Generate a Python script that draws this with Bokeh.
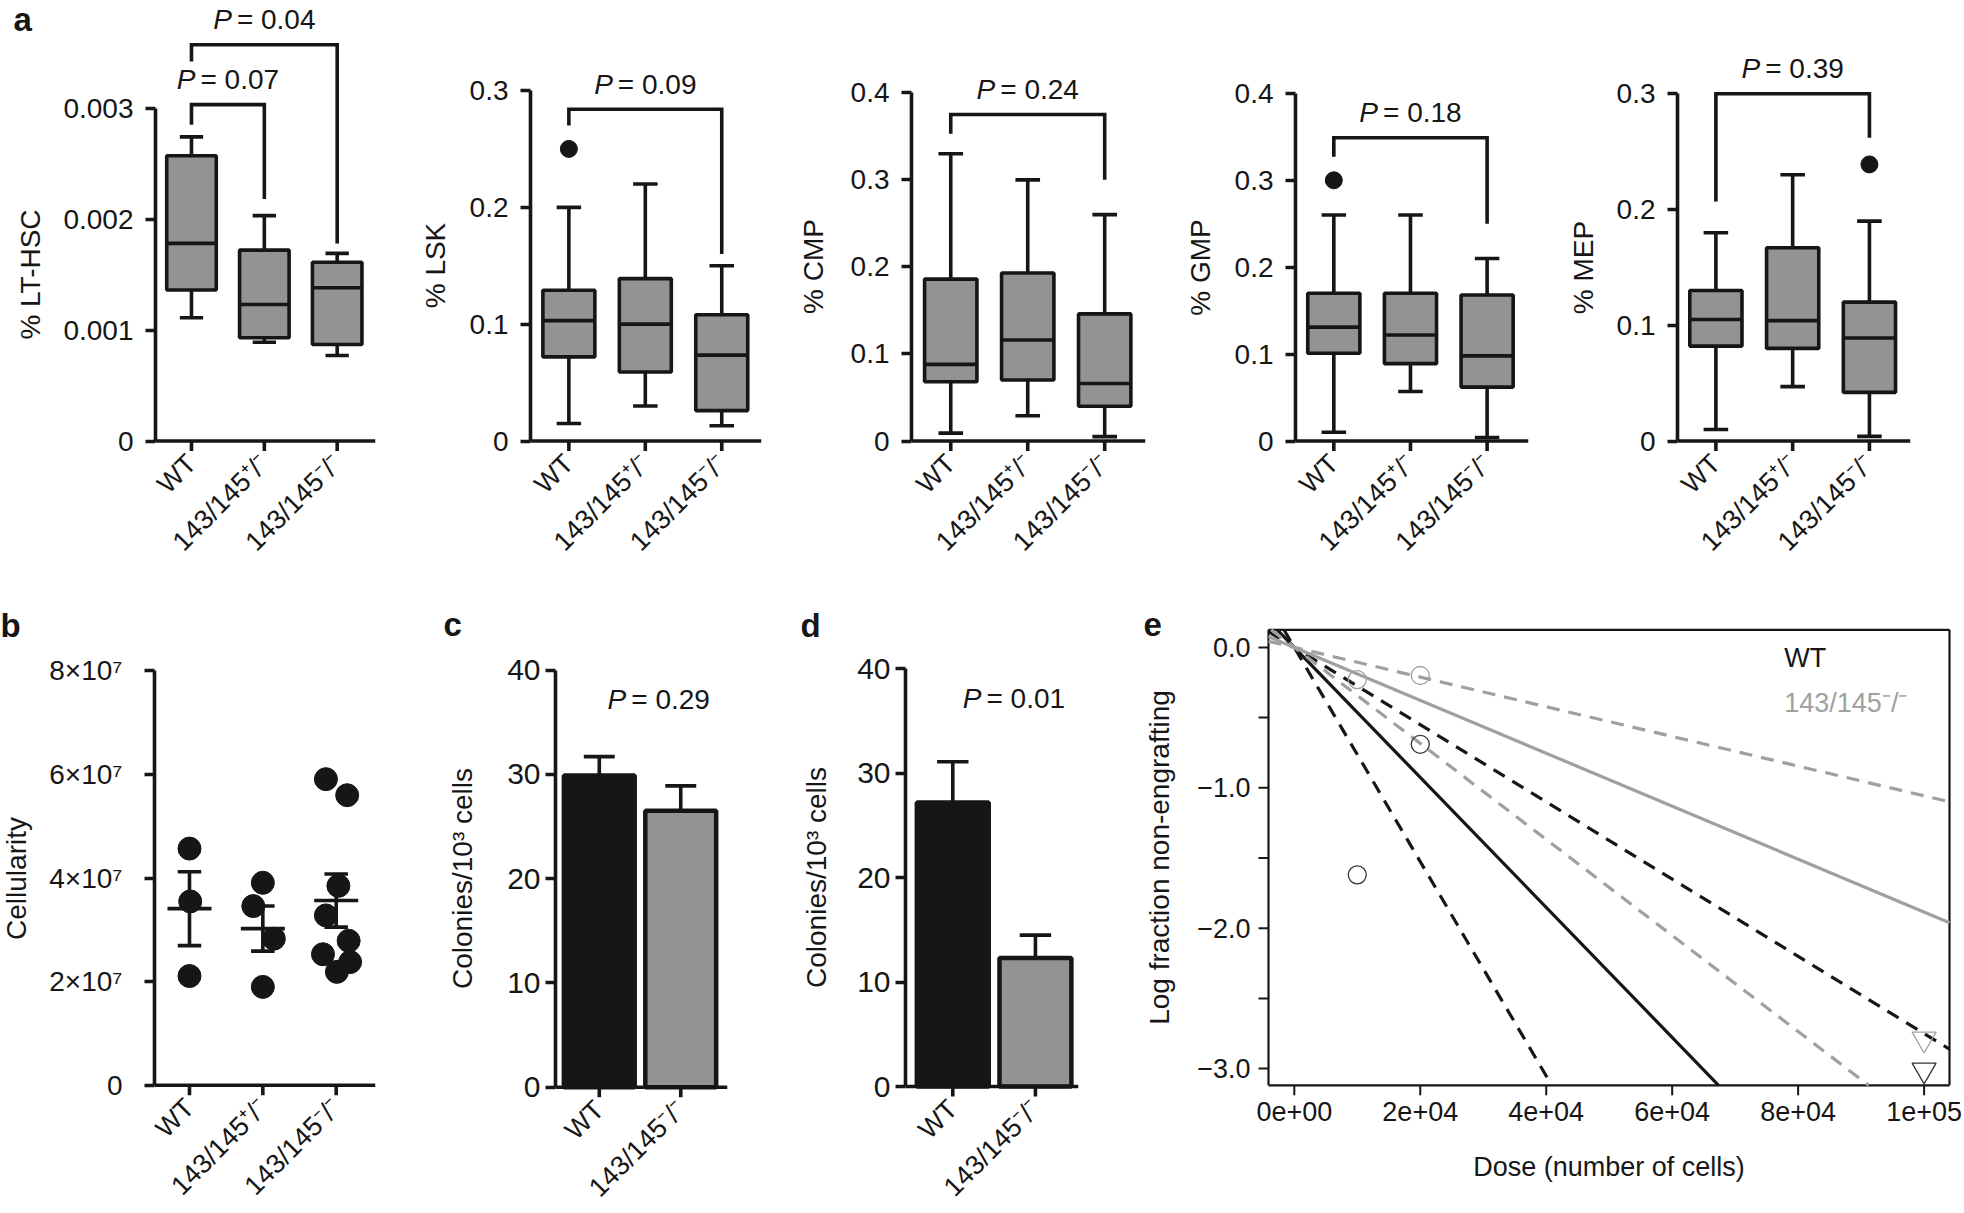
import math
from bokeh.plotting import figure
from bokeh.models import Range1d, FixedTicker
from bokeh.layouts import row, column
from bokeh.embed import file_html
from bokeh.resources import INLINE
from bokeh.core.properties import value

FONT = "Liberation Sans"
BLACK = "#161616"
BOXGRAY = "#939393"
LINEGRAY = "#a0a0a0"
LW = 3.6

# ---------------- data ----------------
groups3 = ["WT", "143/145⁺/⁻", "143/145⁻/⁻"]
groups2 = ["WT", "143/145⁻/⁻"]

# panel a: whisker low, Q1, median, Q3, whisker high
lthsc_low = [0.00111, 0.00089, 0.00077]
lthsc_q1 = [0.00136, 0.00093, 0.00087]
lthsc_med = [0.00178, 0.00123, 0.00138]
lthsc_q3 = [0.00257, 0.00172, 0.00161]
lthsc_high = [0.00274, 0.00203, 0.00169]
lthsc_out = []

lsk_low = [0.015, 0.030, 0.013]
lsk_q1 = [0.072, 0.059, 0.026]
lsk_med = [0.103, 0.100, 0.0735]
lsk_q3 = [0.129, 0.139, 0.108]
lsk_high = [0.200, 0.220, 0.150]
lsk_out = [(1, 0.250)]

cmp_low = [0.009, 0.029, 0.005]
cmp_q1 = [0.068, 0.070, 0.040]
cmp_med = [0.088, 0.116, 0.066]
cmp_q3 = [0.186, 0.193, 0.146]
cmp_high = [0.330, 0.300, 0.260]
cmp_out = []

gmp_low = [0.010, 0.057, 0.004]
gmp_q1 = [0.101, 0.089, 0.062]
gmp_med = [0.131, 0.122, 0.098]
gmp_q3 = [0.170, 0.170, 0.168]
gmp_high = [0.260, 0.260, 0.210]
gmp_out = [(1, 0.300)]

mep_low = [0.010, 0.047, 0.004]
mep_q1 = [0.082, 0.080, 0.042]
mep_med = [0.105, 0.104, 0.089]
mep_q3 = [0.130, 0.167, 0.120]
mep_high = [0.180, 0.230, 0.190]
mep_out = [(3, 0.239)]

# brackets: (group a, group b, leg a end, leg b end, bracket top, P value)
lthsc_brackets = [(1, 2, 0.00285, 0.00218, 0.00303, "0.07"),
                  (1, 3, 0.00342, 0.00178, 0.00357, "0.04")]
lsk_brackets = [(1, 3, 0.270, 0.160, 0.284, "0.09")]
cmp_brackets = [(1, 3, 0.353, 0.300, 0.375, "0.24")]
gmp_brackets = [(1, 3, 0.327, 0.250, 0.349, "0.18")]
mep_brackets = [(1, 3, 0.207, 0.262, 0.300, "0.39")]

# panel b: cellularity per mouse and beeswarm offsets
cell_wt = [4.57e7, 3.55e7, 2.11e7]
cell_het = [3.91e7, 3.46e7, 2.83e7, 1.90e7]
cell_ko = [5.91e7, 5.60e7, 3.85e7, 3.28e7, 2.79e7, 2.53e7, 2.38e7, 2.19e7]
swarm_wt = [0.0, 0.01, 0.0]
swarm_het = [0.0, -0.13, 0.15, 0.0]
swarm_ko = [-0.14, 0.15, 0.03, -0.14, 0.17, -0.18, 0.19, 0.01]

# panels c, d: colonies per 10^3 cells
cfu_c_mean = [29.9, 26.5]
cfu_c_err = [1.8, 2.4]
cfu_c_p = "0.29"
cfu_d_mean = [27.2, 12.3]
cfu_d_err = [3.9, 2.2]
cfu_d_p = "0.01"

# panel e: limiting dilution (estimate, upper CI, lower CI) stem-cell frequencies
lda_wt_freq = [4.63e-5, 7.63e-5, 2.75e-5]
lda_ko_freq = [1.885e-5, 3.42e-5, 1.057e-5]
lda_wt_dose = [1e4, 2e4]
lda_wt_logfrac = [-1.62, -0.69]
lda_ko_dose = [1e4, 2e4]
lda_ko_logfrac = [-0.23, -0.20]
lda_wt_zero_dose = [1e5]
lda_wt_zero_val = [-3.01]
lda_ko_zero_dose = [1e5]
lda_ko_zero_val = [-2.79]
dose_ticks = [0, 20000, 40000, 60000, 80000, 100000]
dose_tick_labels = ["0e+00", "2e+04", "4e+04", "6e+04", "8e+04", "1e+05"]
logfrac_ticks = [-3, -2.5, -2, -1.5, -1, -0.5, 0]
logfrac_labelled = [-3, -2, -1, 0]
logfrac_tick_labels = ["−3.0", "−2.0", "−1.0", "0.0"]

# ---------------- helpers ----------------
CW = {"=": 0.584, " ": 0.278, ".": 0.278}


def str_w(s):
    return sum(CW.get(ch, 0.556) for ch in s)


def base_fig(width, height, left, right, xr, yr, yaxis=True):
    p = figure(width=width, height=height, output_backend="svg", toolbar_location=None,
               tools="", x_range=Range1d(*xr), y_range=Range1d(*yr), x_axis_type=None,
               y_axis_type="linear" if yaxis else None,
               min_border_left=left, min_border_right=right,
               min_border_top=0, min_border_bottom=0)
    p.grid.visible = False
    p.outline_line_color = None
    p.background_fill_color = "white"
    p.border_fill_color = "white"
    return p


def text_fig(width, height, items):
    """Narrow strip holding panel letters and y-axis titles (as real text)."""
    f = figure(width=width, height=height, output_backend="svg", toolbar_location=None,
               tools="", x_range=Range1d(0, width), y_range=Range1d(0, height),
               x_axis_type=None, y_axis_type=None,
               min_border_left=0, min_border_right=0, min_border_top=0, min_border_bottom=0)
    f.grid.visible = False
    f.outline_line_color = None
    f.background_fill_color = "white"
    f.border_fill_color = "white"
    for (txt, x, ymid, kind) in items:
        if kind == "letter":
            f.text(x=[x], y=[height - ymid], text=[txt], text_font=value(FONT),
                   text_font_style="bold", text_font_size="33px", text_color=BLACK,
                   text_align="left", text_baseline="middle")
        else:
            f.text(x=[x], y=[height - ymid], text=[txt], text_font=value(FONT),
                   text_font_size="28px", text_color=BLACK, angle=math.pi / 2,
                   text_align="center", text_baseline="middle")
    return f


def style_yaxis(ax, fs, lw=LW, tick_out=10, standoff=10):
    ax.axis_line_width = lw
    ax.axis_line_color = BLACK
    ax.major_tick_line_width = lw
    ax.major_tick_line_color = BLACK
    ax.major_tick_out = tick_out
    ax.major_tick_in = 0
    ax.minor_tick_line_color = None
    ax.major_label_text_font = FONT
    ax.major_label_text_font_size = f"{fs}px"
    ax.major_label_text_color = BLACK
    ax.major_label_standoff = standoff


def manual_xaxis(p, xr, cats, labels, ppu, fs=27):
    n = len(cats)
    p.segment(x0=[xr[0]], y0=[0], x1=[xr[1]], y1=[0], line_color=BLACK, line_width=LW)
    p.segment(x0=cats, y0=[0] * n, x1=cats, y1=[-10 / ppu] * n, line_color=BLACK,
              line_width=LW)
    p.text(x=cats, y=[-18 / ppu] * n, text=labels, angle=math.pi / 4, text_align="right",
           text_baseline="middle", text_font=value(FONT), text_font_size=f"{fs}px",
           text_color=BLACK)


def ptext(p, x, y, pv, fs=28):
    """P-value text centred at (x, y): italic P followed by '= value'."""
    rest = "= " + pv
    wp = 0.667 + 0.18
    W = (wp + str_w(rest)) * fs
    p.text(x=[x], y=[y], text=["P"], text_font=value(FONT), text_font_style="italic",
           text_font_size=f"{fs}px", text_align="left", text_baseline="middle",
           x_offset=-W / 2, text_color=BLACK)
    p.text(x=[x], y=[y], text=[rest], text_font=value(FONT), text_font_size=f"{fs}px",
           text_align="left", text_baseline="middle", x_offset=-W / 2 + wp * fs,
           text_color=BLACK)


ROW1_H = 600
ZERO1 = 440.5          # canvas y of the value-0 axis line in row 1
BOXW = 0.68
CAP = 0.16


def box_panel(width, left, right, xr, ppu, ticks, tlabels, low, q1, med, q3, high,
              outs, brackets):
    yr = (-(ROW1_H - ZERO1) / ppu, ZERO1 / ppu)
    p = base_fig(width, ROW1_H, left, right, xr, yr)
    xs = [1, 2, 3]
    p.segment(x0=xs, y0=low, x1=xs, y1=high, line_color=BLACK, line_width=LW)
    for yy in (low, high):
        p.segment(x0=[x - CAP for x in xs], y0=yy, x1=[x + CAP for x in xs], y1=yy,
                  line_color=BLACK, line_width=LW)
    p.vbar(x=xs, width=BOXW, bottom=q1, top=q3, fill_color=BOXGRAY, line_color=BLACK,
           line_width=LW)
    p.segment(x0=[x - BOXW / 2 for x in xs], y0=med, x1=[x + BOXW / 2 for x in xs], y1=med,
              line_color=BLACK, line_width=LW)
    if outs:
        p.scatter(x=[o[0] for o in outs], y=[o[1] for o in outs], size=17, color=BLACK)
    for (g1, g2, l1, l2, top, pv) in brackets:
        p.line(x=[g1, g1, g2, g2], y=[l1, top, top, l2], line_color=BLACK, line_width=LW,
               line_join="miter")
        ptext(p, (g1 + g2) / 2, top + 25 / ppu, pv)
    p.yaxis.ticker = FixedTicker(ticks=ticks)
    p.yaxis.major_label_overrides = dict(zip(ticks, tlabels))
    p.yaxis.bounds = (0, ticks[-1])
    style_yaxis(p.yaxis[0], 28, standoff=12)
    manual_xaxis(p, xr, xs, groups3, ppu)
    return p


# ---------------- row 1 ----------------
ta1 = text_fig(52, ROW1_H, [("a", 13, 19, "letter"), ("% LT-HSC", 30, 274, "ylab")])
a1 = box_panel(348, 103, 25, (0.506, 3.526), 1.11e5, [0, 0.001, 0.002, 0.003],
               ["0", "0.001", "0.002", "0.003"],
               lthsc_low, lthsc_q1, lthsc_med, lthsc_q3, lthsc_high, lthsc_out,
               lthsc_brackets)
ta2 = text_fig(55, ROW1_H, [("% LSK", 35, 265, "ylab")])
a2 = box_panel(335, 75, 29, (0.498, 3.52), 1168.3, [0, 0.1, 0.2, 0.3],
               ["0", "0.1", "0.2", "0.3"],
               lsk_low, lsk_q1, lsk_med, lsk_q3, lsk_high, lsk_out, lsk_brackets)
ta3 = text_fig(45, ROW1_H, [("% CMP", 23, 266, "ylab")])
a3 = box_panel(345, 76, 35, (0.49, 3.53), 870.5, [0, 0.1, 0.2, 0.3, 0.4],
               ["0", "0.1", "0.2", "0.3", "0.4"],
               cmp_low, cmp_q1, cmp_med, cmp_q3, cmp_high, cmp_out, cmp_brackets)
ta4 = text_fig(42, ROW1_H, [("% GMP", 20, 267, "ylab")])
a4 = box_panel(338, 73, 32, (0.5, 3.54), 869.0, [0, 0.1, 0.2, 0.3, 0.4],
               ["0", "0.1", "0.2", "0.3", "0.4"],
               gmp_low, gmp_q1, gmp_med, gmp_q3, gmp_high, gmp_out, gmp_brackets)
ta5 = text_fig(45, ROW1_H, [("% MEP", 23, 267, "ylab")])
a5 = box_panel(349, 72, 44, (0.5, 3.535), 1157.3, [0, 0.1, 0.2, 0.3],
               ["0", "0.1", "0.2", "0.3"],
               mep_low, mep_q1, mep_med, mep_q3, mep_high, mep_out, mep_brackets)

# ---------------- row 2 ----------------
ROW2_H = 612

tb = text_fig(40, ROW2_H, [("b", 0, 25, "letter"), ("Cellularity", 16, 278, "ylab")])
b_ppu = 414.4 / 8e7
b_zero = 484.8
b_xr = (0.523, 3.536)
b = base_fig(390, ROW2_H, 114, 55, b_xr, (-(ROW2_H - b_zero) / b_ppu, b_zero / b_ppu))
for gi, (vals, offs) in enumerate([(cell_wt, swarm_wt), (cell_het, swarm_het),
                                   (cell_ko, swarm_ko)]):
    xc = gi + 1
    n = len(vals)
    mean = sum(vals) / n
    sd = math.sqrt(sum((v - mean) ** 2 for v in vals) / (n - 1))
    sem = sd / math.sqrt(n)
    b.scatter(x=[xc + o for o in offs], y=vals, size=23, color=BLACK)
    b.segment(x0=[xc], y0=[mean - sem], x1=[xc], y1=[mean + sem], line_color=BLACK,
              line_width=LW)
    b.segment(x0=[xc - 0.16, xc - 0.16], y0=[mean - sem, mean + sem],
              x1=[xc + 0.16, xc + 0.16], y1=[mean - sem, mean + sem],
              line_color=BLACK, line_width=LW)
    b.segment(x0=[xc - 0.3], y0=[mean], x1=[xc + 0.3], y1=[mean], line_color=BLACK,
              line_width=LW)
bt = [0, 20000000, 40000000, 60000000, 80000000]
b.yaxis.ticker = FixedTicker(ticks=bt)
b.yaxis.major_label_overrides = dict(zip(bt, ["0", "2×10⁷", "4×10⁷", "6×10⁷", "8×10⁷"]))
b.yaxis.bounds = (0, 8e7)
style_yaxis(b.yaxis[0], 28, standoff=22)
manual_xaxis(b, b_xr, [1, 2, 3], groups3, b_ppu)


def bar_panel(width, left, right, xr, zero, ppu, means, errs, pv, px):
    p = base_fig(width, ROW2_H, left, right, xr, (-(ROW2_H - zero) / ppu, zero / ppu))
    xs = [1, 2]
    tops = [m + e for m, e in zip(means, errs)]
    p.segment(x0=xs, y0=means, x1=xs, y1=tops, line_color=BLACK, line_width=LW)
    p.segment(x0=[x - 0.19 for x in xs], y0=tops, x1=[x + 0.19 for x in xs], y1=tops,
              line_color=BLACK, line_width=LW)
    p.vbar(x=xs, width=0.87, bottom=0, top=means, fill_color=[BLACK, BOXGRAY],
           line_color=BLACK, line_width=4.5)
    ptext(p, px, 37.2, pv)
    t = [0, 10, 20, 30, 40]
    p.yaxis.ticker = FixedTicker(ticks=t)
    p.yaxis.major_label_overrides = {k: str(k) for k in t}
    p.yaxis.bounds = (0, 40)
    style_yaxis(p.yaxis[0], 30, standoff=5)
    manual_xaxis(p, xr, xs, groups2, ppu)
    return p


tc = text_fig(55, ROW2_H, [("c", 13, 24, "letter"), ("Colonies/10³ cells", 32, 278, "ylab")])
c = bar_panel(295, 70, 53, (0.4625, 2.574), 486.7, 417.1 / 40, cfu_c_mean, cfu_c_err,
              cfu_c_p, 1.73)
td = text_fig(60, ROW2_H, [("d", 20, 25, "letter"), ("Colonies/10³ cells", 36, 277, "ylab")])
d = bar_panel(290, 65, 52, (0.428, 2.521), 486.0, 417.6 / 40, cfu_d_mean, cfu_d_err,
              cfu_d_p, 1.74)

# ---- panel e (R-style boxed plot, drawn in page-pixel geometry) ----
te = text_fig(55, ROW2_H, [("e", 13, 24, "letter"),
                           ("Log fraction non-engrafting", 29, 257, "ylab")])
E_PPX = 629.8 / 1e5        # px per cell
E_PPU = 140.4              # px per log unit
E_FRAME_L = 1185.0         # page x of e's frame left
E_DOSE0 = 1293.8           # page x of dose 0
E_Y0 = 46.9                # canvas y of log fraction 0
e_w = 777
e_xr = ((E_FRAME_L - E_DOSE0) / E_PPX, (E_FRAME_L + e_w - E_DOSE0) / E_PPX)
e_yr = (-(ROW2_H - E_Y0) / E_PPU, E_Y0 / E_PPU)
box_x0, box_x1 = (1268.0 - E_DOSE0) / E_PPX, (1949.0 - E_DOSE0) / E_PPX
box_y0, box_y1 = -(484.8 - E_Y0) / E_PPU, (E_Y0 - 29.3) / E_PPU
e = base_fig(e_w, ROW2_H, 0, 0, e_xr, e_yr, yaxis=False)
e.segment(x0=[box_x0, box_x0, box_x1, box_x0], y0=[box_y1, box_y0, box_y0, box_y0],
          x1=[box_x1, box_x1, box_x1, box_x0], y1=[box_y1, box_y0, box_y1, box_y1],
          line_color=BLACK, line_width=2.2)


def lda_line(f, color, dash):
    xs = max(box_x0, -box_y1 / f)
    xe = min(box_x1, -box_y0 / f)
    e.line(x=[xs, xe], y=[-f * xs, -f * xe], line_color=color, line_width=3.2,
           line_dash=dash)


for f, dash in zip(lda_wt_freq, ["solid", "13 9", "13 9"]):
    lda_line(f, BLACK, dash)
for f, dash in zip(lda_ko_freq, ["solid", "13 9", "13 9"]):
    lda_line(f, LINEGRAY, dash)
e.scatter(x=lda_wt_dose, y=lda_wt_logfrac, marker="circle", size=18, fill_color=None,
          line_color="#333333", line_width=1.3)
e.scatter(x=lda_ko_dose, y=lda_ko_logfrac, marker="circle", size=18, fill_color=None,
          line_color=LINEGRAY, line_width=1.3)
e.scatter(x=lda_wt_zero_dose, y=lda_wt_zero_val, marker="inverted_triangle", size=24,
          fill_color=None, line_color="#333333", line_width=1.3)
e.scatter(x=lda_ko_zero_dose, y=lda_ko_zero_val, marker="inverted_triangle", size=24,
          fill_color=None, line_color=LINEGRAY, line_width=1.3)
e.text(x=[77800], y=[-0.077], text=["WT"], text_font=value(FONT), text_font_size="27px",
       text_color=BLACK, text_align="left", text_baseline="middle")
e.text(x=[77800], y=[-0.397], text=["143/145⁻/⁻"], text_font=value(FONT),
       text_font_size="27px", text_color=LINEGRAY, text_align="left",
       text_baseline="middle")
# x axis (R style: ticks below the box)
nt = len(dose_ticks)
e.segment(x0=dose_ticks, y0=[box_y0] * nt, x1=dose_ticks, y1=[box_y0 - 10 / E_PPU] * nt,
          line_color=BLACK, line_width=2)
e.text(x=dose_ticks, y=[box_y0 - 17 / E_PPU] * nt, text=dose_tick_labels,
       text_font=value(FONT), text_font_size="27px", text_color=BLACK, text_align="center",
       text_baseline="top")
e.text(x=[(box_x0 + box_x1) / 2], y=[-(1166.0 - 600 - E_Y0) / E_PPU],
       text=["Dose (number of cells)"], text_font=value(FONT), text_font_size="27px",
       text_color=BLACK, text_align="center", text_baseline="middle")
# y axis (R style: ticks left of the box)
ny = len(logfrac_ticks)
e.segment(x0=[box_x0] * ny, y0=logfrac_ticks, x1=[box_x0 - 10 / E_PPX] * ny,
          y1=logfrac_ticks, line_color=BLACK, line_width=2)
e.text(x=[box_x0 - 18 / E_PPX] * len(logfrac_labelled), y=logfrac_labelled,
       text=logfrac_tick_labels, text_font=value(FONT), text_font_size="27px",
       text_color=BLACK, text_align="right", text_baseline="middle")

layout = column(row(ta1, a1, ta2, a2, ta3, a3, ta4, a4, ta5, a5),
                row(tb, b, tc, c, td, d, te, e))
open("out.html", "w").write(file_html(layout, INLINE, title="figure"))
